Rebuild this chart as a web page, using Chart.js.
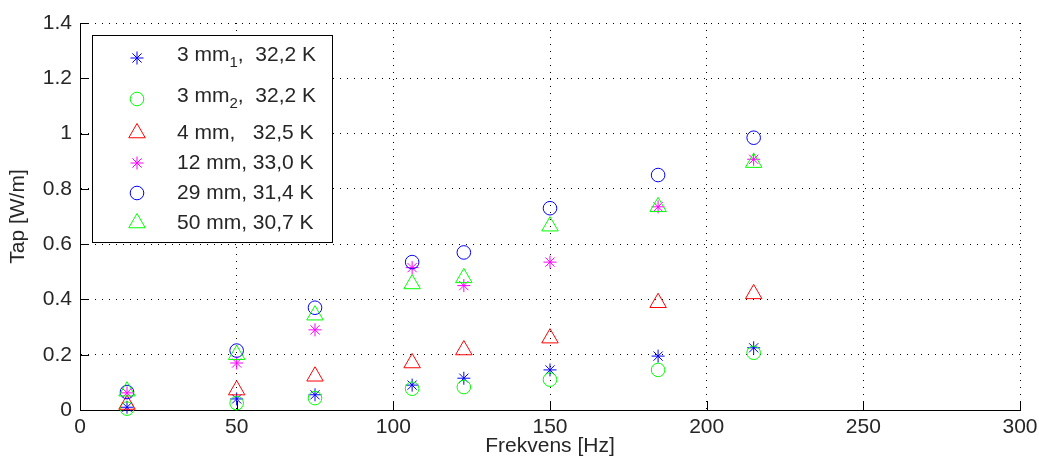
<!DOCTYPE html>
<html>
<head>
<meta charset="utf-8">
<script src="https://cdn.jsdelivr.net/npm/chart.js@4.4.0/dist/chart.umd.min.js"></script>
<style>
  body { margin: 0; background: #fff; }
  canvas { display: block; }
</style>
</head>
<body>
<canvas id="tap" width="1039" height="468"></canvas>
<script>
const freq = [15, 50, 75, 106, 122.5, 150, 184.5, 215];

const tap3mm1 = [0.01, 0.04, 0.055, 0.09, 0.115, 0.145, 0.195, 0.225];
const tap3mm2 = [0.005, 0.025, 0.043, 0.077, 0.083, 0.11, 0.145, 0.207];
const tap4mm = [0.02, 0.072, 0.122, 0.17, 0.217, 0.26, 0.388, 0.42];
const tap12mm = [0.062, 0.17, 0.29, 0.515, 0.45, 0.535, 0.735, 0.907];
const tap29mm = [0.065, 0.215, 0.37, 0.535, 0.57, 0.73, 0.85, 0.985];
const tap50mm = [0.068, 0.2, 0.343, 0.456, 0.478, 0.665, 0.735, 0.895];

// "_n" = subscript
const seriesLabels = [
  "3 mm_1,  32,2 K",
  "3 mm_2,  32,2 K",
  "4 mm,   32,5 K",
  "12 mm, 33,0 K",
  "29 mm, 31,4 K",
  "50 mm, 30,7 K",
];
const seriesData = [tap3mm1, tap3mm2, tap4mm, tap12mm, tap29mm, tap50mm];
const seriesColors = ["#0000ff", "#00ff00", "#ff0000", "#ff00ff", "#0000ff", "#00ff00"];
const seriesMarkers = ["star", "circle", "triangle", "star", "circle", "triangle"];

const xTicks = [0, 50, 100, 150, 200, 250, 300];
const yTicks = [0, 0.2, 0.4, 0.6, 0.8, 1, 1.2, 1.4];
const yTickLabels = ["0", "0.2", "0.4", "0.6", "0.8", "1", "1.2", "1.4"];

const FONT = "'Liberation Sans', Arial, sans-serif";
const FSIZE = 21;
const TEXT = "#262626";

function markerRadius(style) {
  if (style === "triangle") return 9.5;
  if (style === "circle") return 6.8;
  return 6.5;
}

// ticks inside the axes, like matlab
const innerTicks = {
  id: "innerTicks",
  beforeDatasetsDraw(chart) {
    const { ctx, chartArea: a, scales } = chart;
    ctx.save();
    ctx.strokeStyle = "#000";
    ctx.lineWidth = 1;
    ctx.beginPath();
    xTicks.forEach((v) => {
      const px = Math.round(scales.x.getPixelForValue(v)) + 0.5;
      ctx.moveTo(px, a.bottom);
      ctx.lineTo(px, a.bottom - 9);
    });
    yTicks.forEach((v) => {
      const py = Math.round(scales.y.getPixelForValue(v)) + 0.5;
      ctx.moveTo(a.left, py);
      ctx.lineTo(a.left + 9, py);
    });
    ctx.stroke();
    ctx.restore();
  },
};

function drawLabel(ctx, text, x, y) {
  const parts = text.split(/_(\d)/);
  parts.forEach((p, i) => {
    if (i % 2 === 1) {
      ctx.font = "15px " + FONT;
      ctx.fillText(p, x, y + 8);
    } else {
      ctx.font = FSIZE + "px " + FONT;
      ctx.fillText(p, x, y);
    }
    x += ctx.measureText(p).width;
  });
}

const boxLegend = {
  id: "boxLegend",
  afterDatasetsDraw(chart) {
    const ctx = chart.ctx;
    const rowY = [58, 99, 133, 163, 193, 223];
    ctx.save();
    ctx.fillStyle = "#fff";
    ctx.fillRect(92, 35, 240, 208);
    ctx.strokeStyle = "#000";
    ctx.lineWidth = 1;
    ctx.strokeRect(92.5, 35.5, 240, 207);
    seriesLabels.forEach((lbl, i) => {
      ctx.strokeStyle = seriesColors[i];
      ctx.fillStyle = "rgba(0,0,0,0)";
      ctx.lineWidth = 1;
      Chart.helpers.drawPoint(ctx, {
        pointStyle: seriesMarkers[i],
        radius: markerRadius(seriesMarkers[i]),
        rotation: 0,
        borderWidth: 1,
      }, 137, rowY[i]);
      ctx.fillStyle = TEXT;
      ctx.textBaseline = "middle";
      ctx.textAlign = "left";
      const shift = lbl.indexOf("_") >= 0 ? -3 : 0;
      drawLabel(ctx, lbl, 177, rowY[i] + shift);
    });
    ctx.restore();
  },
};

const datasets = seriesData.map((vals, i) => ({
  label: seriesLabels[i],
  data: vals.map((v, j) => ({ x: freq[j], y: v })),
  showLine: false,
  pointStyle: seriesMarkers[i],
  pointRadius: markerRadius(seriesMarkers[i]),
  pointHoverRadius: markerRadius(seriesMarkers[i]),
  pointBorderWidth: 1,
  borderColor: seriesColors[i],
  backgroundColor: "rgba(0,0,0,0)",
  order: seriesData.length - i,
  clip: false,
}));

const gridStyle = {
  color: "#000",
  lineWidth: 1,
  drawTicks: false,
};

new Chart(document.getElementById("tap"), {
  type: "scatter",
  data: { datasets: datasets },
  options: {
    responsive: false,
    animation: false,
    layout: { padding: { left: 0, right: 19, top: 23, bottom: 0 } },
    plugins: {
      legend: { display: false },
      tooltip: { enabled: false },
    },
    scales: {
      x: {
        type: "linear",
        min: 0,
        max: 300,
        afterBuildTicks: (s) => { s.ticks = xTicks.map((v) => ({ value: v })); },
        afterFit: (s) => { s.height = 58; s.paddingLeft = 0; s.paddingRight = 0; },
        grid: gridStyle,
        border: { display: true, color: "#000", width: 1, dash: [1, 6] },
        ticks: {
          color: TEXT,
          font: { family: FONT, size: FSIZE },
          padding: 5,
          maxRotation: 0,
          callback: (v) => String(v),
        },
        title: {
          display: true,
          text: "Frekvens [Hz]",
          color: TEXT,
          font: { family: FONT, size: FSIZE },
          padding: { top: 0, bottom: 9 },
        },
      },
      y: {
        type: "linear",
        min: 0,
        max: 1.4,
        afterBuildTicks: (s) => { s.ticks = yTicks.map((v) => ({ value: v })); },
        afterFit: (s) => { s.width = 80; s.paddingTop = 0; s.paddingBottom = 0; },
        grid: gridStyle,
        border: { display: true, color: "#000", width: 1, dash: [1, 6] },
        ticks: {
          color: TEXT,
          font: { family: FONT, size: FSIZE },
          padding: 8,
          callback: (v, i) => yTickLabels[i],
        },
        title: {
          display: true,
          text: "Tap [W/m]",
          color: TEXT,
          font: { family: FONT, size: FSIZE },
          padding: { top: 6, bottom: 0 },
        },
      },
    },
  },
  plugins: [innerTicks, boxLegend],
});
</script>
</body>
</html>
